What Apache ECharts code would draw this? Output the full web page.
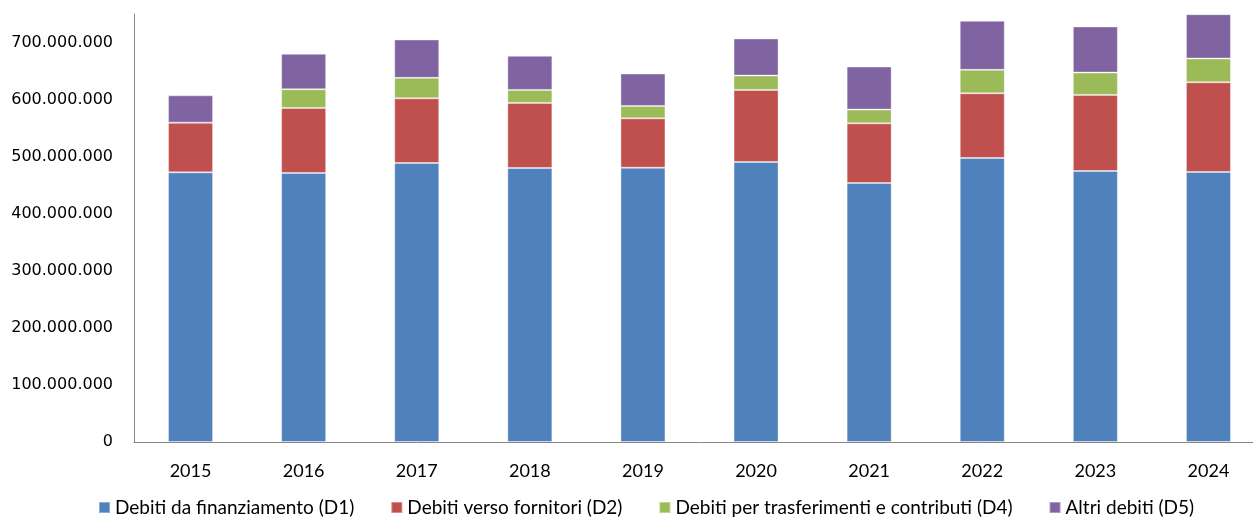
<!DOCTYPE html>
<html>
<head>
<meta charset="utf-8">
<script src="https://cdn.jsdelivr.net/npm/echarts@6/dist/echarts.min.js"></script>
<style>
	html, body { margin: 0; padding: 0; background: #fff; overflow: hidden; }
	#chart { width: 1266px; height: 518px; }
</style>
</head>
<body>
<div id="chart"></div>
<script>
	// anni
	var years = ['2015', '2016', '2017', '2018', '2019', '2020', '2021', '2022', '2023', '2024'];

	// valori in euro
	var debitiFinanziamento = [472500000, 471400000, 488900000, 480200000, 480700000, 490700000, 453900000, 497700000, 474900000, 473200000];
	var debitiFornitori = [87100000, 114000000, 113400000, 114000000, 86500000, 126300000, 104500000, 113400000, 133300000, 157200000];
	var debitiTrasferimenti = [0, 32700000, 35800000, 22800000, 21700000, 25100000, 24100000, 41000000, 39200000, 41500000];
	var altriDebiti = [47900000, 62100000, 67200000, 59700000, 56700000, 64900000, 75400000, 86000000, 80700000, 77700000];

	var seriesNames = ['Debiti da finanziamento (D1)', 'Debiti verso fornitori (D2)', 'Debiti per trasferimenti e contributi (D4)', 'Altri debiti (D5)'];

	function fmt(v) {
		// separatore migliaia all'italiana
		return String(v).replace(/\B(?=(\d{3})+(?!\d))/g, '.');
	}

	var chart = echarts.init(document.getElementById('chart'));

	var option = {
		animation: false,
		color: ['#4F81BD', '#C0504D', '#9BBB59', '#8064A2'],
		grid: {
			left: 134,
			top: 14,
			width: 1131,
			height: 428
		},
		legend: {
			top: 498,
			left: 98,
			padding: 0,
			itemWidth: 11,
			itemHeight: 11,
			itemGap: 36,
			icon: 'rect',
			textStyle: {
				fontFamily: 'Lato',
				fontSize: 19,
				color: '#000'
			},
			data: seriesNames
		},
		xAxis: {
			type: 'category',
			data: years,
			axisLine: { lineStyle: { color: '#868686', width: 1 } },
			axisTick: { show: false },
			axisLabel: {
				margin: 20,
				fontFamily: 'Lato',
				fontSize: 18,
				color: '#000'
			}
		},
		yAxis: {
			type: 'value',
			min: 0,
			max: 750000000,
			interval: 100000000,
			splitLine: { show: false },
			axisLine: { show: true, lineStyle: { color: '#868686', width: 1 } },
			axisTick: { show: false },
			axisLabel: {
				showMaxLabel: false,
				margin: 21,
				fontFamily: 'DejaVu Sans',
				fontSize: 16,
				color: '#000',
				formatter: fmt
			}
		},
		series: [
			{ name: seriesNames[0], type: 'bar', stack: 'debiti', barWidth: 45, data: debitiFinanziamento },
			{ name: seriesNames[1], type: 'bar', stack: 'debiti', barWidth: 45, data: debitiFornitori },
			{ name: seriesNames[2], type: 'bar', stack: 'debiti', barWidth: 45, data: debitiTrasferimenti },
			{ name: seriesNames[3], type: 'bar', stack: 'debiti', barWidth: 45, data: altriDebiti }
		]
	};

	option.series.forEach(function (s) {
		s.itemStyle = { borderColor: 'rgba(255,255,255,0.35)', borderWidth: 1 };
	});

	chart.setOption(option);
</script>
</body>
</html>
